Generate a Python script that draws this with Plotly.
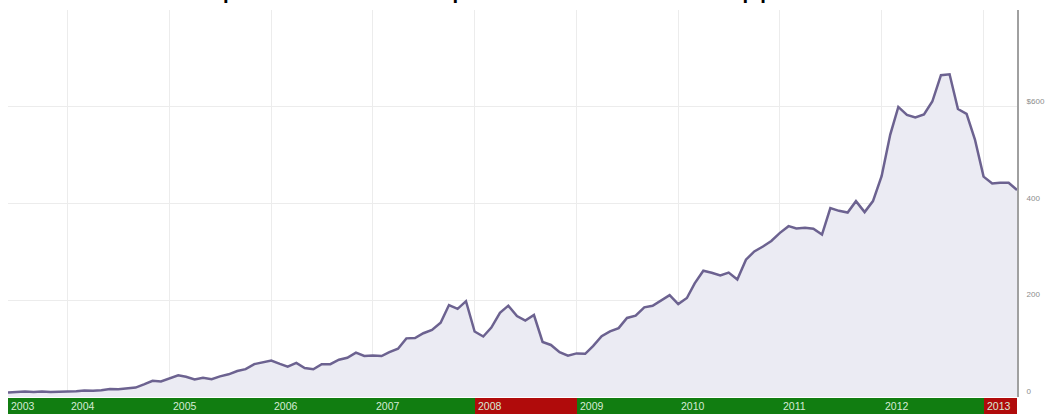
import pandas as pd
import plotly.graph_objects as go

# Monthly closing price (USD), Jun 2003 - May 2013
start_month = "2003-06-01"
prices = [
    9.5, 10.6, 11.3, 10.4, 11.4, 10.5, 10.7,                                   # 2003 Jun-Dec
    11.3, 12.0, 13.5, 12.9, 14.1, 16.3, 16.2, 17.3, 19.4, 26.1, 33.6, 32.2,     # 2004
    38.4, 44.9, 41.7, 36.1, 39.8, 36.8, 42.7, 46.9, 53.6, 57.6, 68.0, 71.9,     # 2005
    75.5, 68.5, 62.7, 70.4, 60.0, 57.3, 67.9, 67.9, 77.0, 81.1, 91.7, 84.8,     # 2006
    85.7, 84.6, 92.9, 99.8, 121.2, 122.0, 131.8, 138.5, 153.5, 190.0, 182.2, 198.1,  # 2007
    135.4, 125.0, 143.5, 174.0, 188.8, 167.4, 158.0, 169.5, 113.7, 107.6, 92.7, 85.4,  # 2008
    90.1, 89.3, 105.1, 125.8, 135.8, 142.4, 163.4, 168.2, 185.4, 188.5, 199.9, 210.7,  # 2009
    192.1, 204.6, 235.0, 261.1, 256.9, 251.5, 257.3, 243.1, 283.8, 300.9, 311.2, 322.6,  # 2010
    339.3, 353.2, 348.5, 350.1, 347.8, 335.7, 390.5, 384.8, 381.3, 404.8, 382.2, 405.0,  # 2011
    456.5, 542.4, 599.6, 583.0, 577.7, 584.0, 610.8, 665.2, 667.1, 595.3, 585.3, 532.2,  # 2012
    455.5, 441.4, 442.7, 442.8, 428.0,                                          # 2013 Jan-May
]
years = list(range(2003, 2014))
y_tick_vals = [0, 200, 400, 600]
y_tick_text = ["0", "200", "400", "$600"]
title_text = "Gráfico 1: Comportamiento del precio en bolsa de Apple desde 2003"

dates = pd.date_range(start_month, periods=len(prices), freq="MS")
s = pd.Series(prices, index=dates)
end_date = dates[-1]

fig = go.Figure()
fig.add_trace(go.Scatter(
    x=dates, y=prices, mode="lines",
    line=dict(color="#6c6290", width=2.5),
    fill="tozeroy", fillcolor="#ebebf3",
    hoverinfo="skip", showlegend=False,
))

# Year performance bar (green up / red down)
seg_x, seg_w, seg_c = [], [], []
prev_close = None
for yr in years:
    seg_start = max(pd.Timestamp(f"{yr}-01-01"), dates[0])
    seg_end = min(pd.Timestamp(f"{yr + 1}-01-01"), end_date)
    yr_vals = s[str(yr)]
    ref = prev_close if prev_close is not None else yr_vals.iloc[0]
    up = yr_vals.iloc[-1] >= ref
    prev_close = yr_vals.iloc[-1]
    seg_x.append(seg_start)
    seg_w.append((seg_end - seg_start).total_seconds() * 1000)
    seg_c.append("#117d11" if up else "#b00b0b")

fig.add_trace(go.Bar(
    x=seg_x, y=[1] * len(seg_x), width=seg_w, offset=0,
    marker=dict(color=seg_c, line=dict(width=0)),
    xaxis="x", yaxis="y2", hoverinfo="skip", showlegend=False,
))

for xs, yr in zip(seg_x, years):
    fig.add_annotation(
        x=xs, y=0.5, xref="x", yref="y2", text=str(yr),
        showarrow=False, xanchor="left", yanchor="middle", xshift=1,
        font=dict(size=10.5, color="#d6ebd6", family="Liberation Sans"),
    )

fig.add_annotation(
    x=0, y=1, xref="paper", yref="paper", text=title_text,
    showarrow=False, xanchor="left", yanchor="bottom", xshift=-3, yshift=5,
    font=dict(size=32, color="#000000", family="Liberation Sans"),
)

H = 404
fig.update_layout(
    width=1047, height=416,
    margin=dict(l=8, r=25, t=10, b=2),
    paper_bgcolor="white", plot_bgcolor="white",
    bargap=0,
    xaxis=dict(
        type="date", range=[dates[0], end_date],
        tickvals=[pd.Timestamp(f"{yr}-01-01") for yr in years[1:]],
        showticklabels=False, ticks="", showgrid=True, gridcolor="#ececec",
        gridwidth=1, zeroline=False, showline=False, anchor="y2",
    ),
    yaxis=dict(
        domain=[17 / H, 1], range=[0, 800], side="right",
        tickvals=y_tick_vals, ticktext=y_tick_text,
        tickfont=dict(size=8, color="#8c8c8c", family="Liberation Sans"),
        ticklabelposition="outside top", ticks="", ticklabelstandoff=6,
        showgrid=True, gridcolor="#ececec", zeroline=False,
        showline=True, linecolor="#a0a0a0", linewidth=2, anchor="x",
    ),
    yaxis2=dict(domain=[0, 16 / H], range=[0, 1], visible=False, anchor="x"),
)

fig.write_html(
    "out.html",
    config={"displayModeBar": False},
    post_script="document.body.style.margin='0px';",
)
